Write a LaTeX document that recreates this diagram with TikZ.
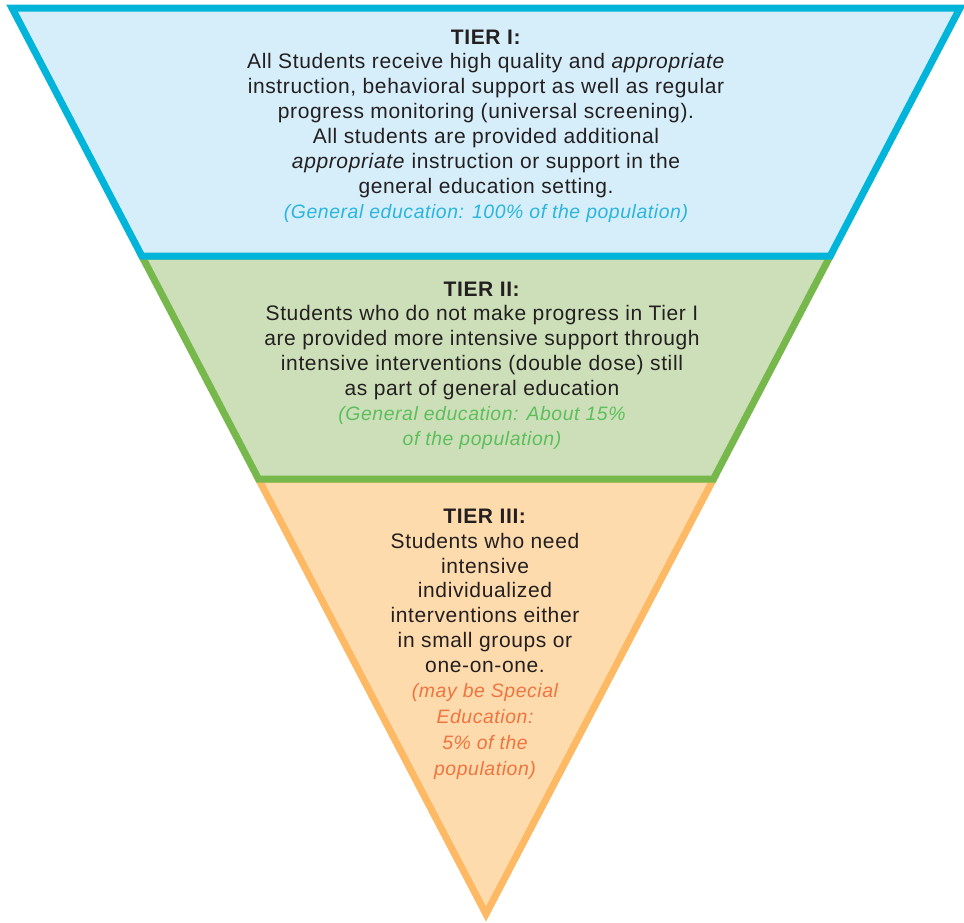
\documentclass[tikz,border=0pt]{standalone}
\usepackage{fontspec}
\setmainfont[LetterSpace=3.0]{Liberation Sans}
\definecolor{bluestroke}{HTML}{00B4DA}
\definecolor{bluefill}{HTML}{D6EEFA}
\definecolor{greenstroke}{HTML}{76B84B}
\definecolor{greenfill}{HTML}{CCDFB8}
\definecolor{orangestroke}{HTML}{FDB964}
\definecolor{orangefill}{HTML}{FEDBAD}
\definecolor{darktext}{HTML}{231F20}
\definecolor{blueital}{HTML}{29B5E0}
\definecolor{greenital}{HTML}{5CBF5C}
\definecolor{orangeital}{HTML}{F0743F}
\newcommand{\popnote}[2]{{\color{#1}\fontsize{19.4}{24.9}\selectfont\itshape #2}}
\tikzset{
  tierbox/.style={line width=7pt, line join=miter},
  tiertext/.style={align=center, inner sep=0pt, text=darktext,
    font=\fontsize{21}{24.9}\selectfont}
}
\begin{document}
\begin{tikzpicture}[x=1pt,y=-1pt]
\useasboundingbox (0,0) rectangle (964,922);
% geometry
\coordinate (TL) at (12,8);
\coordinate (TR) at (960,8);
\coordinate (AL) at (141.8,256);
\coordinate (AR) at (830.2,256);
\coordinate (BL) at (258.5,479);
\coordinate (BR) at (713.5,479);
\coordinate (apex) at (486,914);
% tiers
\draw[tierbox, draw=orangestroke, fill=orangefill] (BL) -- (BR) -- (apex) -- cycle;
\draw[tierbox, draw=greenstroke, fill=greenfill] (AL) -- (AR) -- (BR) -- (BL) -- cycle;
\draw[tierbox, draw=bluestroke, fill=bluefill] (TL) -- (TR) -- (AR) -- (AL) -- cycle;
% texts
\node[tiertext] (t1) at (486,126) {\textbf{TIER I:}\\
All Students receive high quality and \textit{appropriate}\\
instruction, behavioral support as well as regular\\
progress monitoring (universal screening).\\
All students are provided additional\\
\textit{appropriate} instruction or support in the\\
general education setting.\\
\popnote{blueital}{(General education: 100\% of the population)}};
\node[tiertext] (t2) at (482,365.5) {\textbf{TIER II:}\\
Students who do not make progress in Tier I\\
are provided more intensive support through\\
intensive interventions (double dose) still\\
as part of general education\\
\popnote{greenital}{(General education: About 15\%}\\
\popnote{greenital}{of the population)}};
\node[tiertext] (t3) at (485,644) {\textbf{TIER III:}\\
Students who need\\
intensive\\
individualized\\
interventions either\\
in small groups or\\
one-on-one.\\
\popnote{orangeital}{(may be Special}\\[1pt]
\popnote{orangeital}{Education:}\\[1pt]
\popnote{orangeital}{5\% of the}\\[1pt]
\popnote{orangeital}{population)}};
\end{tikzpicture}
\end{document}
